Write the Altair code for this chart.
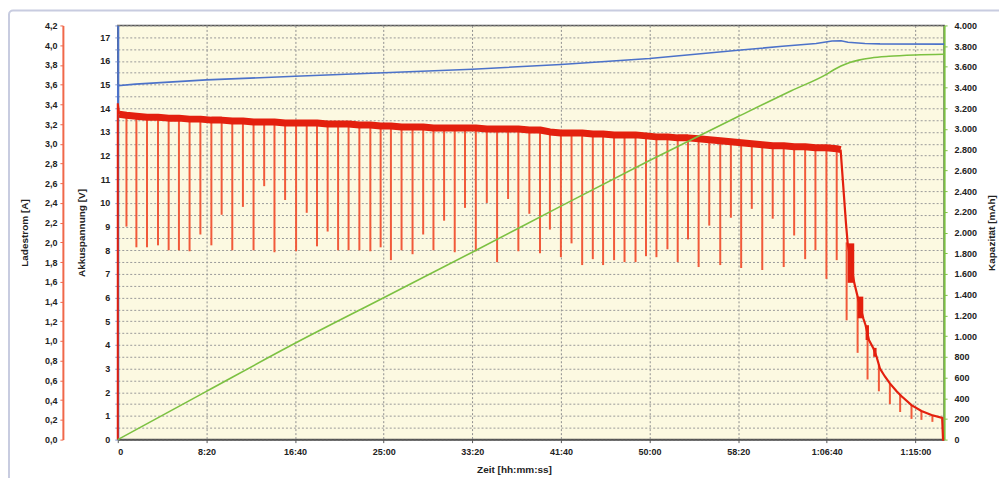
import altair as alt
import pandas as pd

# ---------------- data ----------------
time_ticks = [0, 500, 1000, 1500, 2000, 2500, 3000, 3500, 4000, 4500]
time_labels = ["0", "8:20", "16:40", "25:00", "33:20", "41:40", "50:00", "58:20", "1:06:40", "1:15:00"]

# charge current pulses (s / A)
pulse_t = [49, 105, 165, 227, 287, 345, 405, 466, 528, 586, 646, 706, 766, 826, 884, 944, 1006, 1066, 1124, 1184, 1243, 1302,
           1363, 1425, 1483, 1541, 1601, 1663, 1723, 1781, 1841, 1901, 1959, 2020, 2082, 2140, 2202, 2260, 2322, 2382, 2438, 2500, 2560, 2620,
           2680, 2738, 2800, 2859, 2921, 2980, 3039, 3101, 3159, 3217, 3277, 3337, 3399, 3459, 3517, 3577, 3636, 3695, 3757, 3816, 3878, 3936, 3998, 4056]
pulse_top = [3.29, 3.28, 3.27, 3.27, 3.26, 3.26, 3.25, 3.25, 3.24, 3.24, 3.23, 3.23, 3.22, 3.22, 3.22, 3.21, 3.21, 3.21, 3.21, 3.20, 3.20, 3.20,
             3.19, 3.19, 3.18, 3.18, 3.17, 3.17, 3.17, 3.16, 3.16, 3.16, 3.16, 3.16, 3.15, 3.15, 3.15, 3.15, 3.14, 3.14, 3.12, 3.11, 3.11, 3.11,
             3.10, 3.10, 3.09, 3.09, 3.09, 3.08, 3.07, 3.07, 3.06, 3.06, 3.05, 3.04, 3.03, 3.02, 3.01, 3.00, 2.99, 2.98, 2.98, 2.97, 2.97, 2.96, 2.96, 2.95]
pulse_bottom = [2.16, 1.95, 1.95, 1.97, 1.92, 1.92, 1.91, 2.08, 1.97, 2.28, 1.92, 2.36, 1.92, 2.57, 1.90, 2.43, 1.91, 2.30, 1.96, 2.11, 1.92, 1.92,
                1.92, 1.91, 1.95, 1.82, 1.92, 1.88, 2.08, 1.92, 2.22, 1.90, 2.35, 1.91, 2.40, 1.80, 2.44, 1.91, 2.29, 1.89, 2.13, 1.85, 1.99, 1.77,
                1.83, 1.77, 1.82, 1.80, 1.80, 1.86, 1.85, 1.93, 1.80, 2.03, 1.75, 2.17, 1.77, 2.25, 1.74, 2.34, 1.72, 2.24, 1.75, 2.07, 1.83, 1.92, 1.63, 1.82]

start_t = [0, 0, 8]
start_a = [0.0, 3.41, 3.30]

tail_t = [4078, 4108, 4118, 4155, 4174, 4206, 4219, 4238, 4262, 4281, 4300, 4328, 4356, 4394, 4422, 4478, 4534, 4591, 4651, 4656, 4662]
tail_a = [2.94, 2.20, 1.99, 1.59, 1.45, 1.23, 1.16, 1.01, 0.93, 0.84, 0.72, 0.64, 0.57, 0.49, 0.44, 0.35, 0.29, 0.25, 0.22, 0.0, 0.0]

osc_t0 = [4118, 4174, 4219, 4262]
osc_t1 = [4155, 4206, 4238, 4281]
osc_lo = [1.59, 1.23, 1.01, 0.84]
osc_hi = [1.99, 1.45, 1.16, 0.93]

decay_t = [4112, 4174, 4230, 4294, 4356, 4414, 4478, 4534, 4596]
decay_top = [2.00, 1.45, 1.08, 0.76, 0.57, 0.46, 0.35, 0.29, 0.25]
decay_bottom = [1.21, 0.88, 0.61, 0.49, 0.36, 0.28, 0.21, 0.20, 0.18]

# battery voltage (s / V)
volt_t = [0, 0, 100, 500, 1000, 1500, 2000, 2500, 3000, 3500, 3750, 3940, 4030, 4080, 4120, 4215, 4300, 4662]
volt_v = [0, 14.95, 15.02, 15.2, 15.35, 15.5, 15.65, 15.85, 16.1, 16.45, 16.62, 16.74, 16.84, 16.85, 16.79, 16.74, 16.72, 16.71]

# capacity (s / mAh)
cap_t = [0, 500, 1000, 1500, 2000, 2500, 3000, 3500, 3800, 4000, 4040, 4080, 4130, 4180, 4250, 4350, 4500, 4662]
cap_v = [0, 466, 930, 1370, 1810, 2255, 2695, 3120, 3370, 3530, 3572, 3608, 3642, 3665, 3686, 3702, 3715, 3722]

cur_ticks = [round(i * 0.2, 1) for i in range(22)]
volt_grid = [i * 0.5 for i in range(36)]
cap_ticks = [i * 200 for i in range(21)]

# ---------------- tables ----------------
band_df = pd.DataFrame({"t": [8] + pulse_t + [4078], "a": [3.30] + pulse_top + [2.94]})
start_df = pd.DataFrame({"t": start_t, "a": start_a})
pulse_df = pd.DataFrame({"t": pulse_t, "a": pulse_bottom, "a2": pulse_top})
tail_df = pd.DataFrame({"t": tail_t, "a": tail_a})
osc_df = pd.DataFrame({"t": osc_t0, "t2": osc_t1, "a": osc_lo, "a2": osc_hi})
decay_df = pd.DataFrame({"t": decay_t, "a": decay_bottom, "a2": decay_top})
volt_df = pd.DataFrame({"t": volt_t, "v": volt_v})
cap_df = pd.DataFrame({"t": cap_t, "c": cap_v})

RED = "#e3200e"
SPIKE = "#f15a3a"
BLUE = "#4c72c9"
GREEN = "#7cc142"
FONT = "Liberation Sans"

ticks_js = "[" + ",".join(str(v) for v in time_ticks) + "]"
labels_js = "[" + ",".join("'" + s + "'" for s in time_labels) + "]"

x_scale = alt.Scale(domain=[0, 4662], nice=False, zero=False)
x_axis = alt.Axis(values=time_ticks, labelExpr=f"{labels_js}[indexof({ticks_js}, datum.value)]",
                  title="Zeit [hh:mm:ss]", grid=True, gridDash=[2, 2], gridColor="#8f8f8f", gridWidth=1,
                  domainColor="#555555", domainWidth=1.5, tickColor="#555555", tickSize=3, labelPadding=5,
                  titleX=397, titleY=30, titleBaseline="middle", titleAlign="center")

cur_scale = alt.Scale(domain=[0, 4.2], nice=False, zero=True)
cur_axis = alt.Axis(values=cur_ticks, labelExpr="replace(format(datum.value, '.1f'), '.', ',')",
                    title="Ladestrom [A]", orient="left", offset=55, grid=False,
                    domainColor="#f0684a", domainWidth=2, tickColor="#f0684a", tickSize=3, labelPadding=3,
                    titleAngle=270, titleX=-38, titleY=207.5, titleAlign="center", titleBaseline="middle")

volt_scale = alt.Scale(domain=[0, 17.5], nice=False, zero=True)
volt_axis = alt.Axis(values=volt_grid, labelExpr="datum.value % 1 === 0 ? format(datum.value, 'd') : ''",
                     title="Akkuspannung [V]", orient="left", grid=True, gridDash=[2, 2], gridColor="#9a9a9a",
                     domainColor=BLUE, domainWidth=2, tickColor="#8899cc", tickSize=3, labelPadding=5,
                     titleAngle=270, titleX=-36, titleY=207.5, titleAlign="center", titleBaseline="middle")

cap_scale = alt.Scale(domain=[0, 4000], nice=False, zero=True)
cap_axis = alt.Axis(values=cap_ticks, labelExpr="replace(format(datum.value, ','), ',', '.')",
                    title="Kapazität [mAh]", orient="right", grid=False,
                    domainColor=GREEN, domainWidth=2, tickColor=GREEN, tickSize=3, labelPadding=7,
                    titleAngle=270, titleX=47, titleY=207.5, titleAlign="center", titleBaseline="middle")

X = alt.X("t:Q", scale=x_scale, axis=x_axis)
YA = alt.Y("a:Q", scale=cur_scale, axis=cur_axis)

pulses = alt.Chart(pulse_df).mark_rule(color=SPIKE, strokeWidth=2).encode(x=X, y=YA, y2="a2:Q")
decay = alt.Chart(decay_df).mark_rule(color=SPIKE, strokeWidth=2).encode(x=X, y=YA, y2="a2:Q")
band = alt.Chart(band_df).mark_line(color=RED, strokeWidth=7, strokeJoin="round").encode(x=X, y=YA)
start = alt.Chart(start_df).mark_line(color=RED, strokeWidth=2).encode(x=X, y=YA)
tail = alt.Chart(tail_df).mark_line(color=RED, strokeWidth=2.2).encode(x=X, y=YA)
osc = alt.Chart(osc_df).mark_rect(color=RED).encode(x=X, x2="t2:Q", y=YA, y2="a2:Q")

current = alt.layer(pulses, decay, band, start, tail, osc)

volt = alt.Chart(volt_df).mark_line(color=BLUE, strokeWidth=1.6).encode(
    x=X, y=alt.Y("v:Q", scale=volt_scale, axis=volt_axis))
cap = alt.Chart(cap_df).mark_line(color=GREEN, strokeWidth=1.6, interpolate="monotone").encode(
    x=X, y=alt.Y("c:Q", scale=cap_scale, axis=cap_axis))

frame = alt.Chart(pd.DataFrame({"k": [0]})).mark_rect(
    fillOpacity=0, stroke="#c8cce0", strokeWidth=2, cornerRadius=4, clip=False
).encode(x=alt.value(-109), x2=alt.value(900), y=alt.value(-15), y2=alt.value(470))

chart = alt.layer(frame, volt, current, cap).resolve_scale(y="independent").properties(
    width=828, height=415,
    autosize=alt.AutoSizeParams(type="none"),
    padding={"left": 110, "top": 17, "right": 55, "bottom": 38},
    background="white",
).configure_view(
    fill="#fcf9e1", stroke="#555555", strokeWidth=1.5
).configure_axis(
    labelFont=FONT, titleFont=FONT, labelFontSize=9, labelFontWeight="bold",
    titleFontSize=10, titleFontWeight="bold", labelColor="#222222", titleColor="#222222"
)

chart.save("out.html", embed_options={"renderer": "svg", "actions": False})
